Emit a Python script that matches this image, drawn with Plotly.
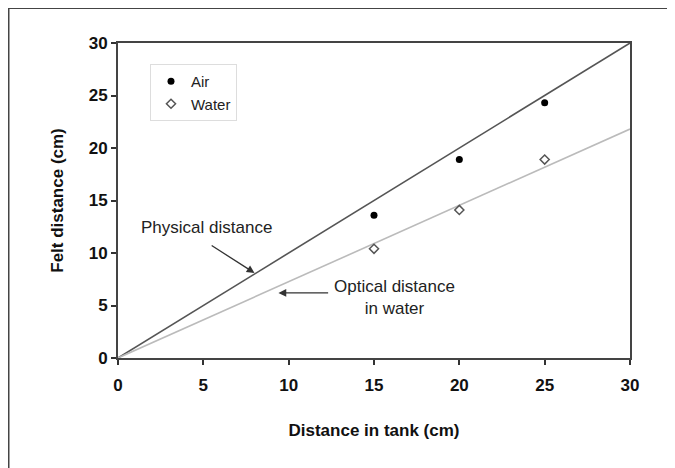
import plotly.graph_objects as go

# Data
air_x = [15, 20, 25]
air_y = [13.6, 18.9, 24.3]
water_x = [15, 20, 25]
water_y = [10.4, 14.1, 18.9]
physical_x = [0, 30]
physical_y = [0, 30]
optical_x = [0, 30]
optical_y = [0, 21.8]
tick_vals = [0, 5, 10, 15, 20, 25, 30]

OFF = 8  # browser body margin
W, H = 675 - OFF, 468 - OFF
L, T = 118 - OFF, 43 - OFF
R = 675 - 630
B = 468 - 358
pw, ph = W - L - R, H - T - B

def px(xp):
    # page x pixel -> paper coordinate
    return (xp - OFF - L) / pw

def py(yp):
    # page y pixel -> paper coordinate
    return (OFF + H - B - yp) / ph

fig = go.Figure()
fig.add_trace(go.Scatter(x=physical_x, y=physical_y, mode="lines",
                         line=dict(color="#555555", width=1.6), showlegend=False, hoverinfo="skip"))
fig.add_trace(go.Scatter(x=optical_x, y=optical_y, mode="lines",
                         line=dict(color="#bbbbbb", width=1.6), showlegend=False, hoverinfo="skip"))
fig.add_trace(go.Scatter(x=air_x, y=air_y, mode="markers", name="Air",
                         marker=dict(symbol="circle", size=7, color="black")))
fig.add_trace(go.Scatter(x=water_x, y=water_y, mode="markers", name="Water",
                         marker=dict(symbol="diamond-open", size=7, color="#555555",
                                     line=dict(width=1.5, color="#555555"))))

font = "Liberation Sans, Arial, sans-serif"
ann_font = dict(family=font, size=17, color="#222222")

fig.add_annotation(x=8.0, y=8.1, ax=5.4, ay=10.8, xref="x", yref="y", axref="x", ayref="y",
                   text="", showarrow=True, arrowhead=2, arrowsize=1.2, arrowwidth=1.3,
                   arrowcolor="#333333")
fig.add_annotation(x=5.2, y=12.4, xref="x", yref="y", text="Physical distance",
                   showarrow=False, font=ann_font)
fig.add_annotation(x=9.4, y=6.2, ax=12.4, ay=6.2, xref="x", yref="y", axref="x", ayref="y",
                   text="", showarrow=True, arrowhead=2, arrowsize=1.2, arrowwidth=1.3,
                   arrowcolor="#333333")
fig.add_annotation(x=16.2, y=5.8, xref="x", yref="y", text="Optical distance<br>in water",
                   showarrow=False, font=ann_font, align="center")

# outer frame (top and left edges)
fig.add_shape(type="line", xref="paper", yref="paper", x0=px(8), x1=px(676), y0=py(8), y1=py(8),
              line=dict(color="#444444", width=2))
fig.add_shape(type="line", xref="paper", yref="paper", x0=px(8.5), x1=px(8.5), y0=py(8), y1=py(470),
              line=dict(color="#444444", width=2))

axis_common = dict(range=[0, 30], tickvals=tick_vals, ticks="outside", ticklen=5, tickwidth=1.5,
                   tickcolor="#333333", showline=True, linecolor="#444444", linewidth=2,
                   mirror=True, showgrid=False, zeroline=False,
                   tickfont=dict(family=font, size=17, color="#111111", weight="bold"))

fig.update_xaxes(**axis_common, ticklabelstandoff=6,
                 title=dict(text="<b>Distance in tank (cm)</b>", standoff=30,
                            font=dict(family=font, size=17, color="#111111")))
fig.update_yaxes(**axis_common,
                 title=dict(text="<b>Felt distance (cm)</b>", standoff=21,
                            font=dict(family=font, size=17, color="#111111")))

fig.update_layout(
    width=W, height=H,
    margin=dict(l=L, r=R, t=T, b=B),
    plot_bgcolor="white", paper_bgcolor="white",
    legend=dict(x=px(150), y=py(64), xanchor="left", yanchor="top",
                bordercolor="#dddddd", borderwidth=1, bgcolor="white",
                font=dict(family=font, size=15, color="#222222"),
                itemwidth=30),
    font=dict(family=font),
)

fig.write_html("out.html")
